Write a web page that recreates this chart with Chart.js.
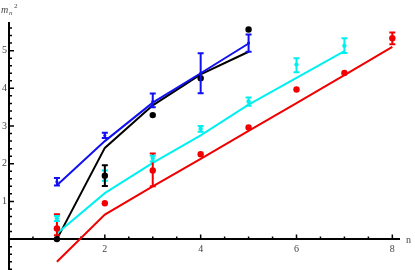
<!DOCTYPE html>
<html>
<head>
<meta charset="utf-8">
<script src="https://cdn.jsdelivr.net/npm/chart.js@4.4.0/dist/chart.umd.min.js"></script>
<style>
    html, body { margin: 0; padding: 0; background: #fff; }
    #wrap { width: 415px; height: 270px; }
</style>
</head>
<body>
<div id="wrap"><canvas id="chart" width="415" height="270"></canvas></div>
<script>
// Tick labels
const xTickLabels = [2, 4, 6, 8];
const yTickLabels = [1, 2, 3, 4, 5];

// Blue series (points with error bars) and its line
const blueX = [1, 2, 3, 4, 5];
const blueY = [1.52, 2.75, 3.65, 4.40, 5.20];
const blueLo = [1.42, 2.68, 3.50, 3.87, 4.97];
const blueHi = [1.62, 2.82, 3.86, 4.93, 5.43];
const blueLine = [1.43, 2.60, 3.62, 4.40, 5.19];

// Black series
const blackX = [1, 2, 3, 4, 5];
const blackY = [0.00, 1.68, 3.29, 4.27, 5.56];
const blackLo = [null, 1.41, null, null, null];
const blackHi = [null, 1.96, null, null, null];
const blackLine = [0.00, 2.42, 3.55, 4.37, 4.97];

// Cyan series
const cyanX = [1, 2, 3, 4, 5, 6, 7];
const cyanY = [0.55, 1.70, 2.15, 2.93, 3.65, 4.63, 5.13];
const cyanLo = [0.48, 1.55, 2.06, 2.85, 3.54, 4.43, 4.94];
const cyanHi = [0.61, 1.82, 2.21, 3.00, 3.76, 4.80, 5.33];
const cyanLine = [0.15, 1.22, 2.02, 2.75, 3.57, 4.28, 4.99];

// Red series
const redX = [1, 2, 3, 4, 5, 6, 7, 8];
const redY = [0.28, 0.95, 1.82, 2.25, 2.96, 3.97, 4.41, 5.33];
const redLo = [0.10, null, 1.40, null, null, null, null, 5.17];
const redHi = [0.66, null, 2.27, null, null, null, null, 5.48];
const redLine = [-0.60, 0.65, 1.40, 2.13, 2.87, 3.61, 4.35, 5.10];

function pts(xs, ys) {
    return xs.map((x, i) => ({ x: x, y: ys[i] }));
}

// Series as points (with optional error bars)
function pointSet(xs, ys, lo, hi, color, radius) {
    return {
        type: 'scatter',
        data: pts(xs, ys),
        errLo: lo,
        errHi: hi,
        showLine: false,
        pointRadius: radius,
        pointBackgroundColor: color,
        pointBorderColor: color,
        pointBorderWidth: 0,
        errColor: color
    };
}

// Series as a polyline
function lineSet(xs, ys, color) {
    return {
        type: 'line',
        data: pts(xs, ys),
        showLine: true,
        borderColor: color,
        borderWidth: 2,
        pointRadius: 0,
        fill: false,
        tension: 0
    };
}

const BLUE = '#1010f0';
const CYAN = '#00f0f0';
const RED = '#f00000';
const BLACK = '#000000';

// Draw error bars under each dataset's points
const errorBars = {
    id: 'errorBars',
    beforeDatasetDraw(chart, args) {
        const ds = chart.data.datasets[args.index];
        if (!ds.errLo) return;
        const ctx = chart.ctx;
        const xs = chart.scales.x, ys = chart.scales.y;
        ctx.save();
        ctx.strokeStyle = ds.errColor;
        ctx.lineWidth = 2;
        ds.data.forEach((p, i) => {
            if (ds.errLo[i] == null) return;
            const px = xs.getPixelForValue(p.x);
            const y1 = ys.getPixelForValue(ds.errLo[i]);
            const y2 = ys.getPixelForValue(ds.errHi[i]);
            ctx.beginPath();
            ctx.moveTo(px, y1); ctx.lineTo(px, y2);
            ctx.moveTo(px - 3, y1); ctx.lineTo(px + 3, y1);
            ctx.moveTo(px - 3, y2); ctx.lineTo(px + 3, y2);
            ctx.stroke();
        });
        ctx.restore();
    }
};

// Axes through the origin, ticks pointing inward
const originAxes = {
    id: 'originAxes',
    beforeDatasetsDraw(chart) {
        const ctx = chart.ctx;
        const xs = chart.scales.x, ys = chart.scales.y;
        const area = chart.chartArea;
        const x0 = xs.getPixelForValue(0);
        const y0 = ys.getPixelForValue(0);
        ctx.save();
        ctx.strokeStyle = '#000';
        ctx.lineWidth = 2;
        ctx.beginPath();
        ctx.moveTo(x0, area.top); ctx.lineTo(x0, area.bottom);
        ctx.moveTo(area.left, y0); ctx.lineTo(area.right, y0);
        ctx.stroke();

        // x ticks every 0.5, long ones on labelled values
        ctx.lineWidth = 1.5;
        ctx.beginPath();
        for (let v = 0.5; v <= xs.max; v += 0.5) {
            const px = xs.getPixelForValue(v);
            const len = xTickLabels.includes(v) ? 4.5 : 2.5;
            ctx.moveTo(px, y0); ctx.lineTo(px, y0 - len);
        }
        // y ticks every 0.2
        for (let k = Math.ceil(ys.min * 5); k <= Math.floor(ys.max * 5); k++) {
            if (k === 0) continue;
            const v = k / 5;
            const py = ys.getPixelForValue(v);
            const len = (k % 5 === 0) ? 5 : 3;
            ctx.moveTo(x0, py); ctx.lineTo(x0 + len, py);
        }
        ctx.stroke();

        ctx.fillStyle = '#444';
        ctx.font = '10px "Liberation Serif", serif';
        ctx.textAlign = 'center';
        ctx.textBaseline = 'top';
        xTickLabels.forEach(v => {
            ctx.fillText(String(v), xs.getPixelForValue(v), y0 + 5);
        });
        ctx.textAlign = 'right';
        ctx.textBaseline = 'middle';
        yTickLabels.forEach(v => {
            ctx.fillText(String(v), x0 - 2, ys.getPixelForValue(v));
        });

        // axis titles
        ctx.textAlign = 'left';
        ctx.textBaseline = 'alphabetic';
        ctx.fillText('n', area.right + 6, y0 + 4);
        ctx.font = 'italic 10px "Liberation Serif", serif';
        ctx.fillText('m', 1, 13);
        ctx.font = 'italic 7px "Liberation Serif", serif';
        ctx.fillText('n', 9, 15);
        ctx.font = '7px "Liberation Serif", serif';
        ctx.fillText('2', 14, 8);
        ctx.restore();
    }
};

new Chart(document.getElementById('chart').getContext('2d'), {
    data: {
        datasets: [
            pointSet(blueX, blueY, blueLo, blueHi, BLUE, 1.5),
            pointSet(blackX, blackY, blackLo, blackHi, BLACK, 3.2),
            pointSet(cyanX, cyanY, cyanLo, cyanHi, CYAN, 2.2),
            pointSet(redX, redY, redLo, redHi, RED, 3.2),
            lineSet(blueX, blueLine, BLUE),
            lineSet(redX, redLine, RED),
            lineSet(cyanX, cyanLine, CYAN),
            lineSet(blackX, blackLine, BLACK)
        ]
    },
    options: {
        responsive: false,
        animation: false,
        layout: { autoPadding: false, padding: { left: 9, right: 15, top: 22, bottom: 0 } },
        scales: {
            x: { type: 'linear', min: 0, max: 8.16, display: false },
            y: { type: 'linear', min: -0.82, max: 5.76, display: false }
        },
        plugins: {
            legend: { display: false },
            tooltip: { enabled: false }
        }
    },
    plugins: [originAxes, errorBars]
});
</script>
</body>
</html>
